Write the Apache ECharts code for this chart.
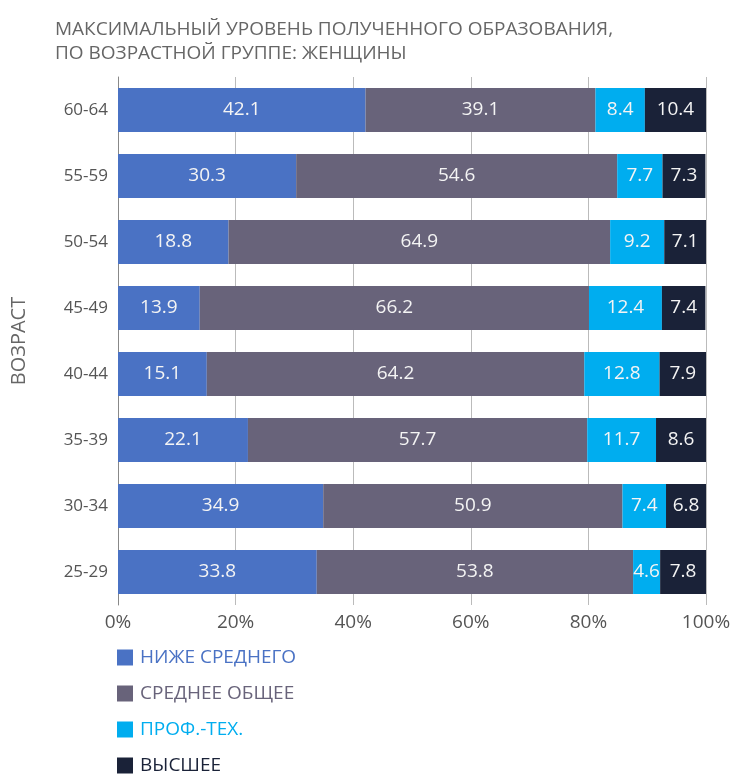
<!DOCTYPE html>
<html>
<head>
<meta charset="utf-8">
<script src="https://cdn.jsdelivr.net/npm/echarts@6/dist/echarts.min.js"></script>
<style>
  html, body { margin: 0; padding: 0; background: #fff; }
  #chart { width: 734px; height: 776px; }
</style>
</head>
<body>
<div id="chart"></div>
<script>
// возрастные группы, снизу вверх
let ages = ['25-29', '30-34', '35-39', '40-44', '45-49', '50-54', '55-59', '60-64'];

let belowSecondary = [33.8, 34.9, 22.1, 15.1, 13.9, 18.8, 30.3, 42.1];
let generalSecondary = [53.8, 50.9, 57.7, 64.2, 66.2, 64.9, 54.6, 39.1];
let vocational = [4.6, 7.4, 11.7, 12.8, 12.4, 9.2, 7.7, 8.4];
let higher = [7.8, 6.8, 8.6, 7.9, 7.4, 7.1, 7.3, 10.4];

let seriesNames = ['НИЖЕ СРЕДНЕГО', 'СРЕДНЕЕ ОБЩЕЕ', 'ПРОФ.-ТЕХ.', 'ВЫСШЕЕ'];
let colors = ['#4a72c4', '#68637a', '#00adef', '#1a2238'];
let xTicks = [0, 20, 40, 60, 80, 100];

let font = '"Open Sans", "Noto Sans", sans-serif';

function makeSeries(name, data, color) {
    return {
        name: name,
        type: 'bar',
        stack: 'total',
        data: data,
        barWidth: 44,
        itemStyle: { color: color },
        label: {
            show: true,
            position: 'inside',
            color: '#f4f4f4',
            fontFamily: font,
            fontSize: 19,
            formatter: p => p.value.toFixed(1)
        }
    };
}

// одна легенда на строку, чтобы шаг был ровный
let legends = seriesNames.map((n, i) => ({
    left: 117,
    top: 648 + i * 36,
    padding: 0,
    itemWidth: 16,
    itemHeight: 16,
    icon: 'rect',
    selectedMode: false,
    textStyle: { fontFamily: font, fontSize: 19, color: colors[i], padding: [0, 0, 0, 2] },
    data: [n]
}));

let chart = echarts.init(document.getElementById('chart'));

let option = {
    animation: false,
    color: colors,
    title: {
        text: 'МАКСИМАЛЬНЫЙ УРОВЕНЬ ПОЛУЧЕННОГО ОБРАЗОВАНИЯ,\nПО ВОЗРАСТНОЙ ГРУППЕ: ЖЕНЩИНЫ',
        left: 50,
        top: 13,
        textStyle: {
            color: '#666',
            fontFamily: font,
            fontWeight: 'normal',
            fontSize: 19,
            lineHeight: 24
        }
    },
    legend: legends,
    grid: {
        left: 118,
        right: 28,
        top: 77,
        bottom: 171
    },
    xAxis: {
        type: 'value',
        min: 0,
        max: 100,
        interval: 20,
        axisLine: { show: false },
        axisTick: { show: false },
        splitLine: { show: true, lineStyle: { color: '#bbb', width: 1 } },
        axisLabel: {
            color: '#555',
            fontFamily: font,
            fontSize: 19,
            margin: 8,
            formatter: v => xTicks.indexOf(v) >= 0 ? v + '%' : ''
        }
    },
    yAxis: {
        type: 'category',
        data: ages,
        name: 'ВОЗРАСТ',
        nameLocation: 'middle',
        nameGap: 89,
        nameTextStyle: { color: '#666', fontFamily: font, fontSize: 20 },
        axisLine: { show: true, lineStyle: { color: '#888', width: 1 } },
        axisTick: { show: false },
        axisLabel: { color: '#555', fontFamily: font, fontSize: 17, margin: 10 }
    },
    series: [
        makeSeries(seriesNames[0], belowSecondary, colors[0]),
        makeSeries(seriesNames[1], generalSecondary, colors[1]),
        makeSeries(seriesNames[2], vocational, colors[2]),
        makeSeries(seriesNames[3], higher, colors[3])
    ]
};

chart.setOption(option);
</script>
</body>
</html>
